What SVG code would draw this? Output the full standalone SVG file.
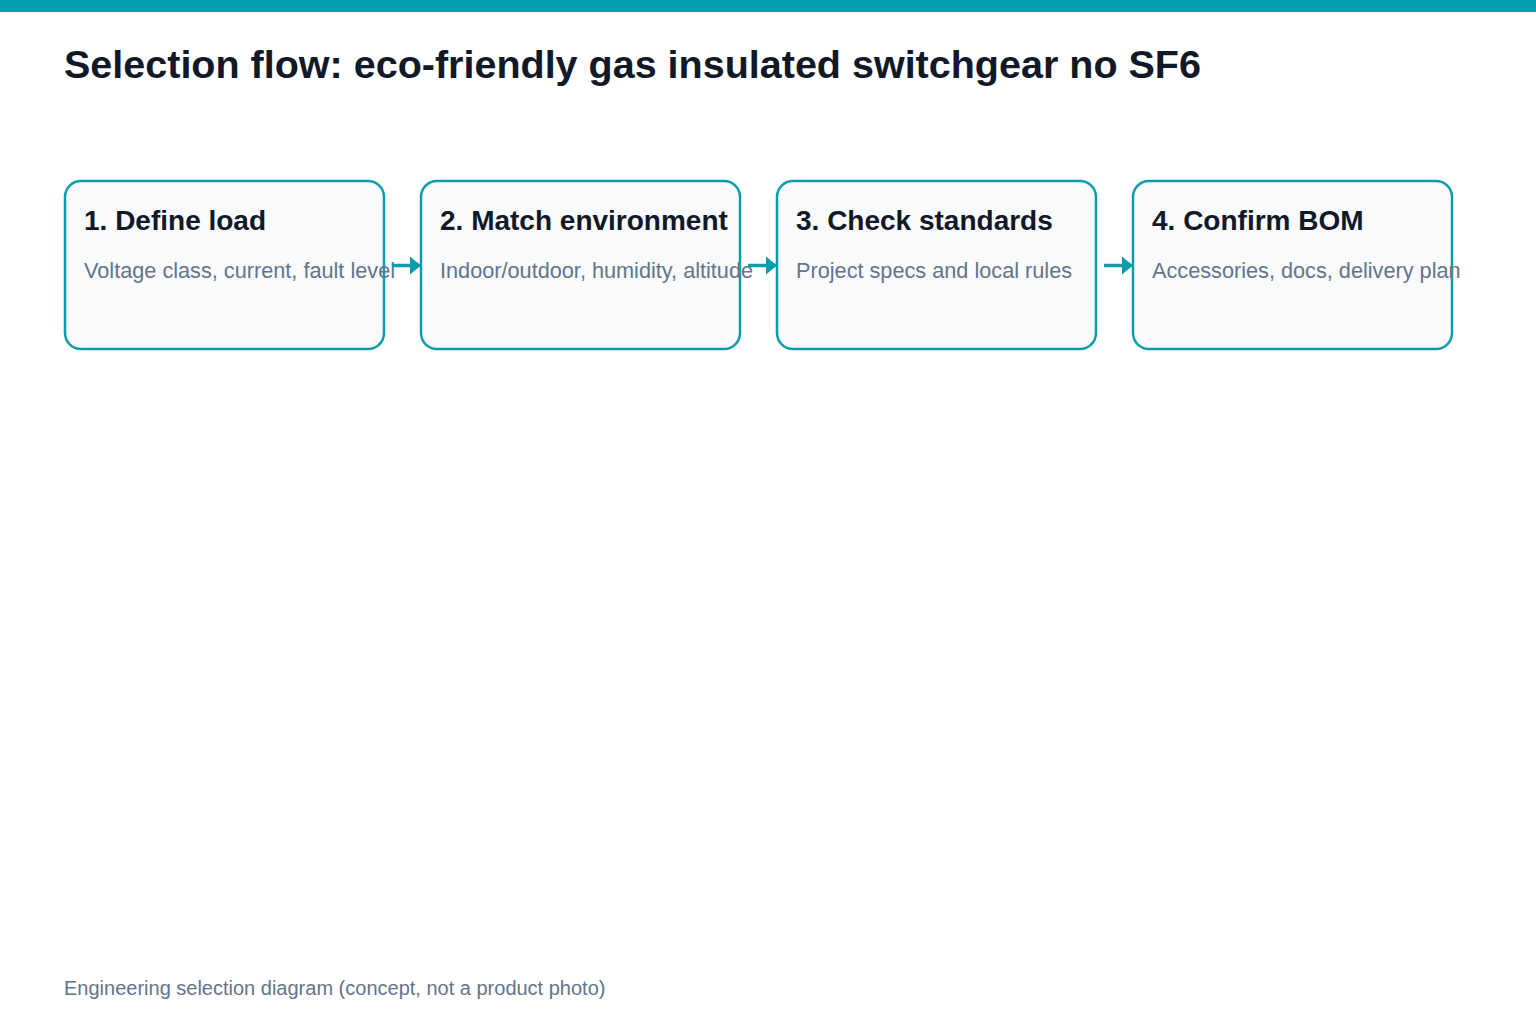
<svg xmlns="http://www.w3.org/2000/svg" width="1536" height="1024" viewBox="0 0 1536 1024">
<defs>
<style>
.title{font-family:"Liberation Sans",Arial,sans-serif;font-weight:bold;font-size:39.5px;fill:#111827}
.box{fill:#f8fafc;stroke:#0c9daa;stroke-width:2.5}
.h{font-family:"Liberation Sans",Arial,sans-serif;font-weight:bold;font-size:28px;fill:#111827}
.s{font-family:"Liberation Sans",Arial,sans-serif;font-size:21.7px;fill:#64748b}
.foot{font-family:"Liberation Sans",Arial,sans-serif;font-size:20px;fill:#64748b}
.conn{stroke:#0c9daa;stroke-width:3.5;fill:none}
</style>
<marker id="arr" markerWidth="11" markerHeight="18" refX="11" refY="9" orient="auto" markerUnits="userSpaceOnUse">
<path d="M0,0 L11,9 L0,18 Z" fill="#0c9daa"/>
</marker>
</defs>
<rect x="0" y="0" width="1536" height="1024" fill="#ffffff"/>
<rect x="0" y="0" width="1536" height="12" fill="#05a0ae"/>
<text class="title" x="64" y="78">Selection flow: eco-friendly gas insulated switchgear no SF6</text>
<g id="node1">
<rect class="box" x="65" y="181" width="319" height="168" rx="16"/>
<text class="h" x="84" y="230">1. Define load</text>
<text class="s" x="84" y="278">Voltage class, current, fault level</text>
</g>
<g id="node2">
<rect class="box" x="421" y="181" width="319" height="168" rx="16"/>
<text class="h" x="440" y="230">2. Match environment</text>
<text class="s" x="440" y="278">Indoor/outdoor, humidity, altitude</text>
</g>
<g id="node3">
<rect class="box" x="777" y="181" width="319" height="168" rx="16"/>
<text class="h" x="796" y="230">3. Check standards</text>
<text class="s" x="796" y="278">Project specs and local rules</text>
</g>
<g id="node4">
<rect class="box" x="1133" y="181" width="319" height="168" rx="16"/>
<text class="h" x="1152" y="230">4. Confirm BOM</text>
<text class="s" x="1152" y="278">Accessories, docs, delivery plan</text>
</g>
<g id="connectors">
<line class="conn" x1="392" y1="265.5" x2="421" y2="265.5" marker-end="url(#arr)"/>
<line class="conn" x1="748" y1="265.5" x2="777" y2="265.5" marker-end="url(#arr)"/>
<line class="conn" x1="1104" y1="265.5" x2="1133" y2="265.5" marker-end="url(#arr)"/>
</g>
<text class="foot" x="64" y="995">Engineering selection diagram (concept, not a product photo)</text>
</svg>
